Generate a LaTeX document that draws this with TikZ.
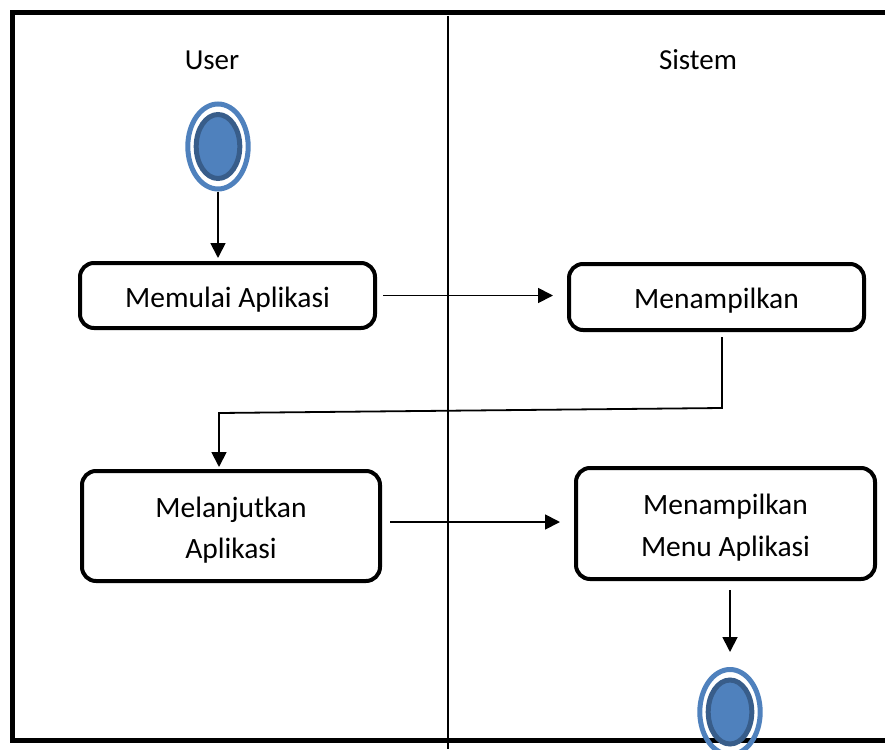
\documentclass[tikz,border=0pt]{standalone}
\usepackage{fontspec}
\setmainfont{Carlito}
\usetikzlibrary{arrows.meta,shapes.geometric}
\definecolor{ringblue}{RGB}{79,129,189}
\definecolor{darkblue}{RGB}{56,93,138}
\newcommand{\toppad}{\rule{0pt}{29pt}}
\begin{document}
\begin{tikzpicture}[x=1pt,y=-1pt,
  act/.style={draw, line width=4pt, rounded corners=14pt, inner sep=2pt,
    align=center, font=\fontsize{29.5}{41.5}\selectfont,
    execute at begin node={\rule{0pt}{28pt}}},
  acttwo/.style={draw, line width=4pt, rounded corners=14pt, inner sep=2pt,
    align=center, font=\fontsize{29.5}{41.5}\selectfont},
  flow/.style={line width=1.8pt, -{Triangle[length=15pt,width=15pt]}},
  lbl/.style={font=\fontsize{29}{34}\selectfont},
  ring/.style={ellipse, draw=ringblue, line width=5pt, inner sep=0pt,
    minimum width=60.4pt, minimum height=85pt},
  core/.style={ellipse, draw=darkblue, fill=ringblue, line width=5pt, inner sep=0pt,
    minimum width=43.6pt, minimum height=64pt}]
\useasboundingbox (0,0) rectangle (885,749);

% swimlane frame and divider
\draw[line width=5.3pt] (885,12.7) -- (12.5,12.7) -- (12.5,740.5) -- (885,740.5);
\draw[line width=1.5pt] (448,16) -- (448,749);

% lane titles
\node[lbl] (user) at (212,60) {User};
\node[lbl] (sistem) at (698,60) {Sistem};

% activities
\node[act, minimum width=295pt, minimum height=65pt] (m1) at (227.5,295.5) {Memulai Aplikasi};
\node[act, minimum width=295pt, minimum height=66pt] (m2) at (716.5,297) {Menampilkan};
\node[acttwo, minimum width=298pt, minimum height=110pt] (m3) at (231,526) {\toppad Melanjutkan\\Aplikasi};
\node[acttwo, minimum width=299pt, minimum height=111pt] (m4) at (725.5,523.5) {\toppad Menampilkan\\Menu Aplikasi};

% initial and final states
\node[ring] (s0) at (218,146.5) {};
\node[core] (s1) at (218,146.5) {};
\node[ring] (e0) at (730,712) {};
\node[core] (e1) at (730,712) {};

% control flow
\draw[flow, shorten >=3pt] (s0.south) -- (s0.south |- m1.north);
\draw[flow, shorten <=6pt, shorten >=14pt] (m1.east) -- (m1.east -| m2.west);
\draw[flow, shorten <=5pt, shorten >=2pt] ([xshift=5.5pt]m2.south) -- ++(0,76)
  -- ([xshift=-12pt,yshift=56pt]m3.north) -- ([xshift=-12pt]m3.north);
\draw[flow, shorten <=8pt, shorten >=14pt] ([yshift=4pt]m3.east) -- ([yshift=4pt]m3.east -| m4.west);
\draw[flow, shorten <=9pt, shorten >=15pt] ([xshift=4.5pt]m4.south) -- (e0.north);
\end{tikzpicture}
\end{document}
